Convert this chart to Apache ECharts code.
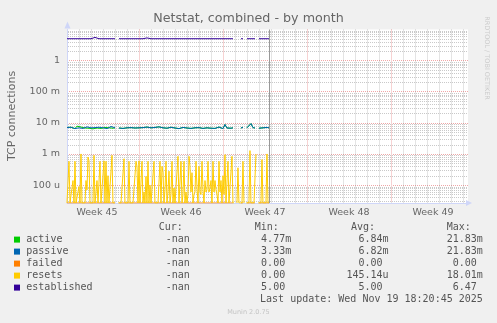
<!DOCTYPE html>
<html><head><meta charset="utf-8">
<script src="https://cdn.jsdelivr.net/npm/echarts@6/dist/echarts.min.js"></script>
<style>html,body{margin:0;padding:0;background:#F0F0F0;}#c{width:497px;height:323px;}</style>
</head><body><div id="c"></div><script>
// ---- axis / labels ----
const weekLabels = ["Week 45","Week 46","Week 47","Week 48","Week 49"];
const weekLabelDays = [3.5, 10.5, 17.5, 24.5, 31.5];
const yTickLabels = ["100 u","1 m","10 m","100 m","1"];   // exponents -4 .. 0
const titleText = "Netstat, combined - by month";
const yTitle = "TCP connections";

// time in days (day 0 = Monday of week 45); samples start at day 1
const START_DAY = 1;
const NOW_DAY = 17.86;
const STEP_4H = 1/6;
const STEP_2H = 1/12;

// ---- series values ----
// active / passive in milli-connections, 4-hour samples
const activeMilli = [7.1,6.6,7.2,6.9,6.5,7.8,6.9,7.3,6.7,6.8,
 7.4,6.7,7.6,6.4,7.0,6.8,7.2,6.6,7.0,7.1,
 6.5,6.9,7.6,6.7,6.9,null,6.8,7.5,6.6,7.1,
 6.9,6.7,7.0,6.6,6.8,7.2,6.9,7.6,7.0,6.8,
 7.3,6.7,6.9,6.5,7.1,6.8,7.4,6.6,6.9,7.0,
 6.7,6.9,7.2,6.6,6.8,7.0,6.5,6.9,7.1,6.7,
 6.8,7.0,6.6,7.2,6.9,6.7,7.0,6.8,6.6,7.1,
 6.9,6.9,6.7,7.0,6.6,6.9,7.3,6.8,6.5,8.8,
 6.8,7.1,6.7,6.9,null,null,null,6.8,7.2,null,
 6.9,6.6,9.4,7.0,6.8,null,6.7,7.0,6.9,6.6,
 7.1,6.9];
const passiveMilli = [7.0,6.6,7.2,6.8,6.5,7.1,6.9,7.3,6.6,6.8,
 7.4,6.7,6.9,6.4,7.0,6.8,7.2,6.6,6.9,7.1,
 6.5,6.8,7.6,6.7,6.9,null,6.8,7.0,6.6,7.1,
 6.9,6.7,7.0,6.5,6.8,7.2,6.9,6.6,7.0,6.8,
 7.3,6.7,6.9,6.5,7.1,6.8,7.4,6.6,6.9,7.0,
 6.7,6.9,7.2,6.6,6.8,7.0,6.5,6.9,7.1,6.7,
 6.8,7.0,6.6,7.2,6.9,6.7,7.0,6.8,6.6,7.1,
 6.9,6.9,6.7,7.0,6.6,6.9,7.3,6.8,6.5,8.8,
 6.8,7.1,6.7,6.9,null,null,null,6.8,7.2,null,
 6.9,6.6,9.4,7.0,6.8,null,6.7,7.0,6.9,6.6,
 7.1,6.9];
const failedVals = [0,0,0,0,0,0,0,0,0,0,
 0,0,0,0,0,0,0,0,0,0,
 0,0,0,0,0,null,0,0,0,0,
 0,0,0,0,0,0,0,0,0,0,
 0,0,0,0,0,0,0,0,0,0,
 0,0,0,0,0,0,0,0,0,0,
 0,0,0,0,0,0,0,0,0,0,
 0,0,0,0,0,0,0,0,0,0,
 0,0,0,0,null,null,null,0,0,null,
 0,0,0,0,0,null,0,0,0,0,
 0,0];
const establishedVals = [5,5,5,5,5,5,5,5,5,5,
 5,5,5,5,5.5,5,5,5,5,5,
 5,5,5,5,5,null,5,5,5,5,
 5,5,5,5,5,5,5,5,5,5,
 5.3,5,5,5,5,5,5,5,5,5,
 5,5,5,5,5,5,5,5,5,5,
 5,5,5,5,5,5,5,5,5,5,
 5,5,5,5.5,5,5,5,5,5,5,
 5,5,5,5,null,null,null,5,5,null,
 5,5,5,5,5,null,5,5,5,5,
 5,5];
// resets in milli, 2-hour samples
const resetsMilli = [0,0,0.58,0,0,0,0.14,0,0.58,0,
 0,0.06,0.09,0,1.0,0,0,0,0,0.14,
 0.07,0.8,0.6,0,0,0,0,0.9,0,0,
 0.14,0,0,0.58,0,0,0,0.6,0,0.58,
 0,0.2,0,0,0,0.9,0,0,0,null,
 null,0,0,0,0,0,0,0.7,0,0,
 0,0,0.58,0,0,0,0,0,0,0.58,
 0.4,0,0.6,0,0,0.58,0,0.06,0,0.19,
 0,0.58,0,0.1,0,0,0,0.58,0,0,
 0,0,0,0.58,0,0.4,0.25,0,0.07,0.58,
 0,0.06,0.28,0,0.05,0.58,0,0.08,0,0,
 0,0.84,0,0,0.58,0,0.05,0.58,0,0.06,
 0,0.05,0.84,0.4,0.06,0.25,0,0.05,0.06,0.58,
 0.08,0,0.4,0.06,0.05,0.58,0.07,0,0.14,0.06,
 0.07,0.58,0.06,0.08,0.14,0,0.58,0.06,0.14,0.07,
 0.05,0,0.58,0.06,0.14,0,0.2,0.05,0.95,0,
 0,0.58,0,0,0,0.84,0,0,null,null,
 0,0.36,0,0,0,0,0.58,0,null,0,
 0,0,0,1.28,0,0,0,0,0,1.0,
 null,0,0,0,0,0.66,0,0,0,0,
 1.0,0,0];

// ---- legend table text ----
const legendNames = ["active","passive","failed","resets","established"];
const legendColors = ["#00CC00","#0066B3","#FF8000","#FFCC00","#330099"];
const curStrs = ["-nan","-nan","-nan","-nan","-nan"];
const minStrs = ["4.77m","3.33m","0.00 ","0.00 ","5.00 "];
const avgStrs = ["6.84m","6.82m","0.00 ","145.14u","5.00 "];
const maxStrs = ["21.83m","21.83m","0.00 ","18.01m","6.47 "];
const lastUpdate = "Last update: Wed Nov 19 18:20:45 2025";
const footer = "Munin 2.0.75";
const watermark = "RRDTOOL / TOBI OETIKER";

// ---- build ----
const Y_MIN = Math.pow(10, -4.575), Y_MAX = Math.pow(10, 0.995);
const X_MIN = 1, X_MAX = 34.42;
function pts(arr, step, scale) {
  return arr.map((v, i) => [START_DAY + i * step, v === null ? '-' : (v === 0 ? Y_MIN : v * scale)]);
}
const MINOR = 'rgba(120,120,120,0.4)';
const MAJOR = 'rgba(220,60,60,0.45)';
const FONT = 'DejaVu Sans';
const MONO = 'DejaVu Sans Mono';
const TXT = '#666';

const chart = echarts.init(document.getElementById('c'), null, { renderer: 'canvas' });
const lineSeries = (name, data, color) => ({
  name, type: 'line', data, showSymbol: false, symbol: 'none', connectNulls: false,
  lineStyle: { width: 1, color }, z: 3, silent: true
});

chart.setOption({
  animation: false,
  backgroundColor: '#F0F0F0',
  title: { text: titleText, left: 'center', top: 12, padding: 0,
    textStyle: { fontSize: 12.7, fontWeight: 'normal', fontFamily: FONT, color: TXT } },
  grid: { left: 67, right: 29, top: 29.5, bottom: 120, show: true, backgroundColor: '#fff', borderWidth: 0 },
  xAxis: { type: 'value', min: X_MIN, max: X_MAX, interval: 1, position: 'bottom',
    axisLine: { show: true, onZero: false, lineStyle: { color: '#CFD6F8', width: 1 } },
    axisTick: { show: false }, axisLabel: { show: false },
    splitLine: { show: true, showMinLine: false, showMaxLine: false, lineStyle: { color: MINOR, type: [1, 1], width: 1 } } },
  yAxis: { type: 'log', logBase: 10, min: Y_MIN, max: Y_MAX, splitNumber: 5,
    axisLine: { show: true, lineStyle: { color: '#CFD6F8', width: 1 } },
    axisTick: { show: false },
    axisLabel: { margin: 7, fontSize: 9.5, fontFamily: FONT, color: TXT, showMinLabel: false, showMaxLabel: false,
      formatter: v => { const e = Math.round(Math.log10(v)); return yTickLabels[e + 4] || ''; } },
    splitLine: { show: true, showMinLine: false, showMaxLine: false, lineStyle: { color: MAJOR, type: [1, 1], width: 1 } } },
  series: [
    lineSeries('active', pts(activeMilli, STEP_4H, 1e-3), legendColors[0]),
    lineSeries('passive', pts(passiveMilli, STEP_4H, 1e-3), legendColors[1]),
    lineSeries('failed', pts(failedVals, STEP_4H, 1), legendColors[2]),
    lineSeries('resets', pts(resetsMilli, STEP_2H, 1e-3), legendColors[3]),
    lineSeries('established', pts(establishedVals, STEP_4H, 1), legendColors[4])
  ]
});

// extra grid/labels positioned through the axes' scales
const px = d => chart.convertToPixel({ xAxisIndex: 0 }, d);
const py = v => chart.convertToPixel({ yAxisIndex: 0 }, v);
const gx0 = px(X_MIN), gx1 = px(X_MAX), gy0 = py(Y_MIN), gy1 = py(Y_MAX);
const g = [];
const hLine = (v, color) => {
  const y = Math.round(py(v)) + 0.5;
  g.push({ type: 'line', z: 1, silent: true, shape: { x1: gx0 + 1, y1: y, x2: gx1, y2: y },
    style: { stroke: color, lineWidth: 1, lineDash: [1, 1] } });
};
for (let e = -5; e <= 0; e++) for (let k = 2; k <= 9; k++) {
  const v = k * Math.pow(10, e);
  if (v > Y_MIN && v < Y_MAX) hLine(v, MINOR);
}
[7, 14, 21, 28].forEach(d => {
  const x = Math.round(px(d)) + 0.5;
  g.push({ type: 'line', z: 1, silent: true, shape: { x1: x, y1: gy1, x2: x, y2: gy0 - 1 }, style: { stroke: '#fff', lineWidth: 1 } });
  g.push({ type: 'line', z: 1, silent: true, shape: { x1: x, y1: gy1, x2: x, y2: gy0 - 1 }, style: { stroke: MAJOR, lineWidth: 1, lineDash: [1, 1] } });
});
const nx = Math.round(px(NOW_DAY)) + 0.5;
g.push({ type: 'line', z: 10, silent: true, shape: { x1: nx, y1: gy1, x2: nx, y2: gy0 }, style: { stroke: '#999', lineWidth: 1 } });
// axis arrows
g.push({ type: 'polygon', z: 10, silent: true, shape: { points: [[gx0 + 0.5 - 3, gy1 - 1], [gx0 + 0.5 + 3, gy1 - 1], [gx0 + 0.5, gy1 - 8]] }, style: { fill: '#CFD6F8' } });
g.push({ type: 'polygon', z: 10, silent: true, shape: { points: [[gx1 - 2, gy0 - 3], [gx1 - 2, gy0 + 3], [gx1 + 4, gy0]] }, style: { fill: '#CFD6F8' } });
weekLabels.forEach((t, i) => g.push({ type: 'text', x: px(weekLabelDays[i]), y: 212.7,
  style: { text: t, fontSize: 9.5, fontFamily: FONT, fill: TXT, align: 'center', verticalAlign: 'middle' } }));
g.push({ type: 'text', x: 12, y: 116, rotation: Math.PI / 2,
  style: { text: yTitle, fontSize: 11, fontFamily: FONT, fill: TXT, align: 'center', verticalAlign: 'middle' } });
g.push({ type: 'text', x: 487, y: 58, rotation: -Math.PI / 2,
  style: { text: watermark, fontSize: 6.5, fontFamily: FONT, fill: '#ccc', align: 'center', verticalAlign: 'middle' } });
g.push({ type: 'text', x: 248.5, y: 312, style: { text: footer, fontSize: 6.5, fontFamily: FONT, fill: '#c4c4c4', align: 'center', verticalAlign: 'middle' } });
[["Cur:",158.7],["Min:",254.7],["Avg:",351],["Max:",446.7]].forEach(([t,x]) => {
  g.push({ type: 'text', x, y: 227.8, style: { text: t, fontSize: 10, fontFamily: MONO, fill: '#555', align: 'left', verticalAlign: 'middle' } });
});
legendNames.forEach((n, i) => {
  const y = 239.6 + i * 12;
  g.push({ type: 'rect', shape: { x: 14, y: y - 3, width: 6, height: 6 }, style: { fill: legendColors[i] } });
  const t = (text, x, align) => g.push({ type: 'text', x, y, style: { text, fontSize: 10, fontFamily: MONO, fill: '#555', align, verticalAlign: 'middle' } });
  t(n, 26.3, 'left');
  t(curStrs[i], 165.7, 'left');
  t(minStrs[i], 291.2, 'right');
  t(avgStrs[i], 388.6, 'right');
  t(maxStrs[i], 482.8, 'right');
});
g.push({ type: 'text', x: 482.8, y: 299.6, style: { text: lastUpdate, fontSize: 10, fontFamily: MONO, fill: '#555', align: 'right', verticalAlign: 'middle' } });
chart.setOption({ graphic: g });
</script></body></html>
